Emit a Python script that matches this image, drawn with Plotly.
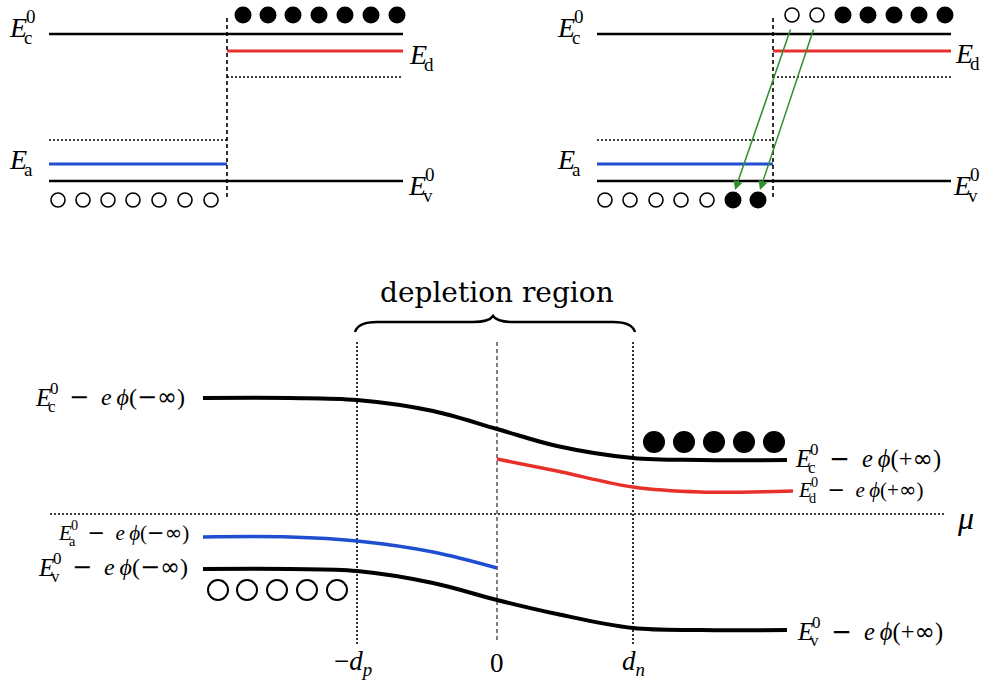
import plotly.graph_objects as go

W, H = 995, 685
SERIF = "Liberation Serif"

# ---------------- top panels: band levels (screen units) ----
TOP_LEVELS = {"Ec": 34, "Ed": 51, "Ed_dot": 77, "Ea_dot": 140, "Ea": 164, "Ev": 181}
PANEL_LEFT = [49, 597]      # left edge of each small panel
PANEL_JUNC = [227, 773]     # junction (dashed) position
PANEL_RIGHT = [403, 951]    # right edge

# electrons / holes in top panels
TL_OPEN_X = [58, 83, 108, 133, 159, 185, 211]
TL_FILLED_X = [243, 268, 293, 319, 345, 371, 397]
TR_TOP_OPEN_X = [792, 817]
TR_TOP_FILLED_X = [843, 868, 894, 919, 945]
TR_BOT_OPEN_X = [605, 630, 656, 681, 707]
TR_BOT_FILLED_X = [733, 758]
TOP_DOT_Y = 15
BOT_DOT_Y = 200

# green transition arrows (start -> end)
ARROW_START_X = [791, 814]
ARROW_END_X = [735, 760]
ARROW_START_Y = 28
ARROW_END_Y = 190

# ---------------- bottom panel: bent bands ------------------------------------
EC_X = [203, 290, 357, 433, 497, 557, 633, 700, 787]
EC_Y = [398, 398, 400, 411, 429, 446, 458, 460, 460]
EA_X = [203, 290, 357, 433, 497]
EA_Y = [537, 537, 541, 552, 568]
EV_X = [203, 290, 357, 433, 497, 557, 633, 700, 787]
EV_Y = [569, 569, 571, 583, 600, 614, 628, 630, 630]
ED_X = [497, 557, 633, 700, 793]
ED_Y = [459, 471, 487, 492, 491]
MU_Y = 514
MU_X = [50, 945]

B_OPEN_X = [218, 247, 277, 307, 337]
B_OPEN_Y = 590
B_FILLED_X = [654, 684, 714, 744, 774]
B_FILLED_Y = 442

X_MARKS = [357, 497, 633]
X_MARK_LABELS = ["\u2212<i>d</i><sub><i>p</i></sub>", "0", "<i>d</i><sub><i>n</i></sub>"]

fig = go.Figure()


def hline(x0, x1, y, color="black", width=2.5, dash=None):
    fig.add_trace(go.Scatter(x=[x0, x1], y=[y, y], mode="lines",
                             line=dict(color=color, width=width, dash=dash),
                             hoverinfo="skip", showlegend=False))


def vline(x, y0, y1, width=1.5, dash="dot"):
    fig.add_trace(go.Scatter(x=[x, x], y=[y0, y1], mode="lines",
                             line=dict(color="black", width=width, dash=dash),
                             hoverinfo="skip", showlegend=False))


def dots(xs, y, filled, size, lw=1.6):
    fig.add_trace(go.Scatter(
        x=xs, y=[y] * len(xs), mode="markers",
        marker=dict(size=size, color="black" if filled else "white",
                    line=dict(color="black", width=0 if filled else lw)),
        hoverinfo="skip", showlegend=False))


# --- top panels
for p in range(2):
    xl, xj, xr = PANEL_LEFT[p], PANEL_JUNC[p], PANEL_RIGHT[p]
    hline(xl, xr, TOP_LEVELS["Ec"])
    hline(xl, xr, TOP_LEVELS["Ev"])
    hline(xj, xr, TOP_LEVELS["Ed"], color="#e8302a", width=3)
    hline(xl, xj, TOP_LEVELS["Ea"], color="#1f4fd0", width=3)
    hline(xj, xr, TOP_LEVELS["Ed_dot"], width=1.6, dash="2px,2px")
    hline(xl, xj, TOP_LEVELS["Ea_dot"], width=1.6, dash="2px,2px")
    vline(xj, 18, 197, width=1.6, dash="4px,3px")

dots(TL_OPEN_X, BOT_DOT_Y, False, 14)
dots(TL_FILLED_X, TOP_DOT_Y, True, 17)
dots(TR_TOP_OPEN_X, TOP_DOT_Y, False, 14)
dots(TR_TOP_FILLED_X, TOP_DOT_Y, True, 17)
dots(TR_BOT_OPEN_X, BOT_DOT_Y, False, 14)
dots(TR_BOT_FILLED_X, BOT_DOT_Y, True, 17)

# --- bottom panel
for xm in X_MARKS:
    if xm == 497:
        vline(xm, 342, 640, width=1, dash="4px,3px")
    else:
        vline(xm, 342, 645, width=1.6, dash="2px,2px")
hline(MU_X[0], MU_X[1], MU_Y, width=1.6, dash="2px,2px")

fig.add_trace(go.Scatter(x=EC_X, y=EC_Y, mode="lines", line=dict(color="black", width=4, shape="spline"),
                         hoverinfo="skip", showlegend=False))
fig.add_trace(go.Scatter(x=EV_X, y=EV_Y, mode="lines", line=dict(color="black", width=4, shape="spline"),
                         hoverinfo="skip", showlegend=False))
fig.add_trace(go.Scatter(x=EA_X, y=EA_Y, mode="lines", line=dict(color="#1f4fd0", width=3.5, shape="spline"),
                         hoverinfo="skip", showlegend=False))
fig.add_trace(go.Scatter(x=ED_X, y=ED_Y, mode="lines", line=dict(color="#e8302a", width=3.5, shape="spline"),
                         hoverinfo="skip", showlegend=False))

dots(B_OPEN_X, B_OPEN_Y, False, 20, 2)
dots(B_FILLED_X, B_FILLED_Y, True, 22)

# brace
bx0, bx1, by, btip = 355, 635, 332, 316
bm = (bx0 + bx1) / 2 - 2
brace = (f"M {bx0} {by} Q {bx0+3} {by-10} {bx0+22} {by-10} L {bm-20} {by-10} "
         f"Q {bm-4} {by-10} {bm} {btip} Q {bm+4} {by-10} {bm+20} {by-10} "
         f"L {bx1-22} {by-10} Q {bx1-3} {by-10} {bx1} {by}")
fig.add_shape(type="path", path=brace, xref="x", yref="y",
              line=dict(color="black", width=2.5))

annotations = []


def text(x, y, t, size, xanchor="left", yanchor="middle", family=SERIF):
    annotations.append(dict(x=x, y=y, xref="x", yref="y", text=t, showarrow=False,
                            xanchor=xanchor, yanchor=yanchor,
                            font=dict(family=family, size=size, color="black")))


def elabel(x, y, sub, sup, size, rest=None, rsize=None):
    s = size * 0.68
    text(x, y, "<i>E</i>", size)
    if sup:
        text(x + 0.60 * size, y - 0.36 * size, sup, s)
    text(x + 0.53 * size, y + 0.36 * size, sub, s)
    if rest:
        text(x + 0.60 * size + 0.42 * s, y, rest, rsize or size)


def dv(t):
    return f'<span style="font-family:DejaVu Sans">{t}</span>'


PHI = "\u03d5"
REST_M = f"\u2002{dv(chr(0x2212))}\u2002<i>e</i>\u2009<i>{PHI}</i>({dv(chr(0x2212) + chr(0x221e))})"
REST_P = f"\u2002{dv(chr(0x2212))}\u2002<i>e</i>\u2009<i>{PHI}</i>(+{dv(chr(0x221e))})"

# top labels
for dx in (0, 548):
    elabel(7 + dx, 27, "c", "0", 28)
    elabel(7 + dx, 159, "a", None, 28)
elabel(407, 54, "d", None, 28)
elabel(406, 185, "v", "0", 28)
elabel(953, 53, "d", None, 28)
elabel(951, 185, "v", "0", 28)

# bottom labels
elabel(33, 397, "c", "0", 25, REST_M, 24)
elabel(56, 533, "a", "0", 21, REST_M, 21)
elabel(36, 567, "v", "0", 25, REST_M, 24)
elabel(793, 458, "c", "0", 25, REST_P, 24.5)
elabel(796, 490, "d", "0", 21, REST_P, 21)
elabel(795, 631, "v", "0", 25, REST_P, 24.5)
text(965, 518, "<i>\u03bc</i>", 32, xanchor="center")

for xm, lab in zip(X_MARKS, X_MARK_LABELS):
    text(xm - 4 if xm == 357 else xm, 663, lab, 27, xanchor="center")

text(497, 292, "depletion region", 28, xanchor="center", family="DejaVu Serif")

# green arrows
for xs, xe in zip(ARROW_START_X, ARROW_END_X):
    annotations.append(dict(x=xe, y=ARROW_END_Y, ax=xs, ay=ARROW_START_Y,
                            xref="x", yref="y", axref="x", ayref="y", text="",
                            showarrow=True, arrowhead=2, arrowsize=1.2, arrowwidth=1.5,
                            arrowcolor="#2f8f2f", standoff=0))

fig.update_layout(
    width=W, height=H, margin=dict(l=0, r=0, t=0, b=0),
    paper_bgcolor="white", plot_bgcolor="white",
    xaxis=dict(range=[0, W], visible=False, fixedrange=True),
    yaxis=dict(range=[H, 0], visible=False, fixedrange=True),
    annotations=annotations, showlegend=False,
)

fig.write_html("out.html", config={"displayModeBar": False},
               post_script="document.body.style.margin='0px';document.body.style.overflow='hidden';")
